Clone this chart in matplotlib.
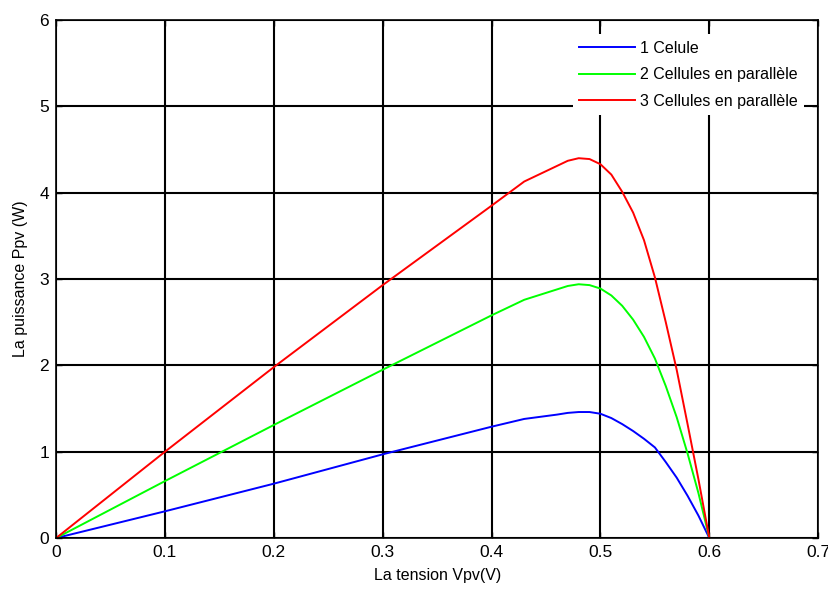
import matplotlib
matplotlib.use("Agg")
import matplotlib.pyplot as plt
from matplotlib import font_manager

# Tension (V) and power (W)
tension = [0, 0.1, 0.2, 0.3, 0.4, 0.43, 0.46, 0.47, 0.48, 0.49, 0.5, 0.51, 0.52,
           0.53, 0.54, 0.55, 0.56, 0.57, 0.58, 0.59, 0.6]
p_1cell = [0, 0.31, 0.63, 0.97, 1.29, 1.38, 1.43, 1.45, 1.46, 1.46, 1.44, 1.39, 1.32,
           1.24, 1.15, 1.05, 0.88, 0.70, 0.49, 0.26, 0]
p_2cell = [0, 0.66, 1.31, 1.95, 2.58, 2.76, 2.88, 2.92, 2.94, 2.93, 2.89, 2.81, 2.69,
           2.53, 2.33, 2.08, 1.76, 1.40, 0.98, 0.52, 0]
p_3cell = [0, 1.0, 1.98, 2.93, 3.85, 4.13, 4.31, 4.37, 4.40, 4.39, 4.33, 4.21, 4.01,
           3.77, 3.45, 3.02, 2.50, 1.95, 1.32, 0.68, 0]

labels = ["1 Celule", "2 Cellules en parallèle", "3 Cellules en parallèle"]
colors = ["#0000ff", "#00ff00", "#ff0000"]
x_ticks = [0, 0.1, 0.2, 0.3, 0.4, 0.5, 0.6, 0.7]
y_ticks = [0, 1, 2, 3, 4, 5, 6]

available = {f.name for f in font_manager.fontManager.ttflist}
family = "Liberation Sans Narrow" if "Liberation Sans Narrow" in available else "Liberation Sans"
plt.rcParams["font.family"] = [family, "DejaVu Sans"]

fig = plt.figure(figsize=(8.29, 5.90), dpi=100)
ax = fig.add_axes([0.0676, 0.088, 0.9194, 0.878])

for p, lab, c in zip([p_1cell, p_2cell, p_3cell], labels, colors):
    ax.plot(tension, p, color=c, lw=1.4, label=lab)

ax.set_xlim(0, 0.7)
ax.set_ylim(0, 6)
ax.set_xticks(x_ticks)
ax.set_yticks(y_ticks)
ax.set_xticklabels([f"{t:g}" for t in x_ticks], fontsize=12.5)
ax.set_yticklabels([str(t) for t in y_ticks], fontsize=12.5)
ax.tick_params(direction="in", top=True, right=True, length=4, width=1, pad=5)
ax.grid(True, color="black", lw=1.5)
ax.set_axisbelow(True)
for s in ax.spines.values():
    s.set_linewidth(1.2)

ax.set_xlabel("La tension Vpv(V)", fontsize=11.5, labelpad=6)
ax.set_ylabel("La puissance Ppv (W)", fontsize=11.5, labelpad=8)

leg = ax.legend(loc="upper right", fontsize=11.5, frameon=True, fancybox=False,
                edgecolor="white", framealpha=1, handlelength=3.5,
                handletextpad=0.3, labelspacing=0.72, borderaxespad=0.9,
                borderpad=0.4)
leg.get_frame().set_linewidth(0)

fig.savefig("out.png", dpi=100)
